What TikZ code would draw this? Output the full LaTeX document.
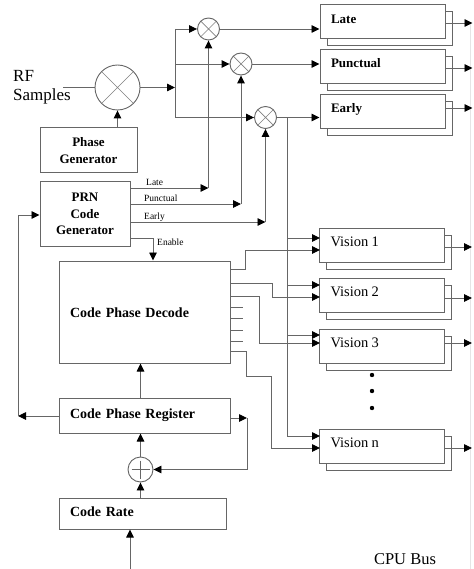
\documentclass[tikz,border=0pt]{standalone}
\usepackage{fontspec}
\setmainfont{Liberation Serif}
\usetikzlibrary{arrows.meta,calc}
\tikzset{
  ln/.style={draw=black!60, line width=0.9pt},
  arr/.style={ln, -{Triangle[length=8pt,width=7.5pt,color=black]}},
  gbox/.style={rectangle, draw=black!60, line width=1pt, fill=white, inner sep=0pt},
  chbox/.style={gbox, minimum width=125pt, minimum height=34pt, text width=103pt,
    inner xsep=11pt, align=left, text height=9pt, text depth=6pt},
  wide/.style={gbox, inner xsep=11pt, align=left, text height=9.5pt, text depth=3pt,
    font=\bfseries\fontsize{14}{16}\selectfont},
  boldlab/.style={font=\bfseries\fontsize{13}{16.5}\selectfont},
  small/.style={font=\fontsize{9.5}{11}\selectfont, inner sep=0pt},
  mixer/.style={circle, draw=black!60, line width=0.9pt, fill=white, inner sep=0pt,
    path picture={\draw[black!50, line width=0.7pt]
      (path picture bounding box.north west) -- (path picture bounding box.south east)
      (path picture bounding box.north east) -- (path picture bounding box.south west);}},
  adder/.style={circle, draw=black!60, line width=0.9pt, fill=white, inner sep=0pt,
    minimum size=25pt,
    path picture={\draw[black!60, line width=0.7pt]
      ([xshift=3.5pt]path picture bounding box.west) -- ([xshift=-3.5pt]path picture bounding box.east)
      ([yshift=-3.5pt]path picture bounding box.north) -- ([yshift=3.5pt]path picture bounding box.south);}},
}
\newcommand\chanbox[4]{%
  \draw[gbox] (#2-62.5+7,#3-17+7) rectangle (#2+62.5+7,#3+17+7);
  \node[chbox] (#1) at (#2,#3) {#4};}
\begin{document}
\begin{tikzpicture}[x=1pt,y=-1pt]
\useasboundingbox (0,0) rectangle (473,569);

% faint CPU bus line
\coordinate (bustop) at (470,23);
\coordinate (busbot) at (470,569);
\draw[black!10, line width=0.8pt] (bustop) -- (busbot);

% left column
\node[font=\fontsize{17}{19}\selectfont, align=left, anchor=west, inner sep=0pt] (rf) at (13,87) {RF\\Samples};
\node[mixer, minimum size=45pt] (mix) at (117.5,87.5) {};
\node[gbox, boldlab, minimum width=97pt, minimum height=45pt, align=center] (phgen) at (88.5,150.5) {Phase\\Generator};
\node[gbox, boldlab, minimum width=90pt, minimum height=64pt, align=center] (prn) at (85,214) {PRN\\Code\\Generator};
\node[wide, minimum width=171pt, minimum height=102pt, text width=149pt, text height=14pt, text depth=3pt] (cpd) at (144.5,312) {Code Phase Decode};
\node[wide, minimum width=171pt, minimum height=35pt, text width=149pt] (reg) at (144.5,415.5) {Code Phase Register};
\node[adder] (add) at (140.5,469.5) {};
\node[wide, minimum width=167pt, minimum height=31pt, text width=145pt] (rate) at (142.5,513.5) {Code Rate};

% small mixers
\node[mixer, minimum size=22pt] (mL) at (208.5,29) {};
\node[mixer, minimum size=22pt] (mP) at (241,64) {};
\node[mixer, minimum size=22pt] (mE) at (265.5,117.5) {};

% channel boxes
\chanbox{late}{382.5}{22}{\bfseries\fontsize{13}{15}\selectfont Late}
\chanbox{punc}{382.5}{66.5}{\bfseries\fontsize{13}{15}\selectfont Punctual}
\chanbox{early}{382.5}{111.5}{\bfseries\fontsize{13}{15}\selectfont Early}
\chanbox{v1}{382}{245}{\fontsize{14.5}{16}\selectfont Vision 1}
\chanbox{v2}{382}{295}{\fontsize{14.5}{16}\selectfont Vision 2}
\chanbox{v3}{382}{346}{\fontsize{14.5}{16}\selectfont Vision 3}
\chanbox{vn}{382}{446}{\fontsize{14.5}{16}\selectfont Vision n}

\fill[black] (372,375) circle (2.2pt);
\fill[black] (372,391) circle (2.2pt);
\fill[black] (372,408) circle (2.2pt);

\node[font=\fontsize{16.5}{18}\selectfont, inner sep=0pt] (cpu) at (405,559) {CPU Bus};

% RF path
\coordinate (rfin) at (63,87.5);
\draw[ln] (rfin) -- (mix.west);
\draw[arr] (mix.south |- phgen.north) -- (mix.south);
\coordinate (sp) at (175,87.5);
\draw[arr] (mix.east) -- (sp);
\coordinate (spT) at (175,29);
\coordinate (spM) at (175,64);
\coordinate (spB) at (175,117.5);
\draw[ln] (spT) -- (spB);
\draw[arr] (spT) -- (mL.west);
\draw[arr] (spM) -- (mP.west);
\draw[arr] (spB) -- (mE.west);
\draw[arr] (mL.east) -- (late.west |- mL.east);
\draw[arr] (mP.east) -- (punc.west |- mP.east);
\draw[arr] (mE.east) -- (early.west |- mE.east);

% outputs to bus
\foreach \n/\dy in {late/1, punc/1.5, early/-3.5, v1/2, v2/3, v3/-3, vn/2}{
  \draw[arr] ($(\n.east)+(0,\dy)$) -- ($(\n.east)+(27,\dy)$);
}

% PRN code outputs
\coordinate (cL) at (208.5,188);
\coordinate (cP) at (241,204);
\coordinate (cE) at (265.5,222);
\draw[arr] (prn.east |- cL) -- (cL);
\draw[arr] (cL) -- (mL.south);
\draw[arr] (prn.east |- cP) -- (cP);
\draw[arr] (cP) -- (mP.south);
\draw[arr] (prn.east |- cE) -- (cE);
\draw[arr] (cE) -- (mE.south);
\node[small, anchor=base west] (tL) at (146,185.5) {Late};
\node[small, anchor=base west] (tP) at (144,201.5) {Punctual};
\node[small, anchor=base west] (tE) at (144,219.5) {Early};

% enable
\coordinate (cEn) at (153,238);
\draw[ln] (prn.east |- cEn) -- (cEn);
\draw[arr] (cEn) -- (cEn |- cpd.north);
\node[small, anchor=west] (tEn) at (157,242) {Enable};

% register / adder / rate
\draw[arr] (add.north |- reg.north) -- (add.north |- cpd.south);
\draw[arr] (add.north) -- (add.north |- reg.south);
\draw[arr] (add.south |- rate.north) -- (add.south);
\coordinate (bin) at (130,569);
\draw[arr] (bin) -- (bin |- rate.south);
\coordinate (rr) at (247,418);
\draw[arr] (reg.east |- rr) -- (rr);
\draw[arr] (rr) |- (add.east);
\coordinate (rl) at (18,416);
\coordinate (rlt) at (18,215);
\draw[arr] (reg.west |- rl) -- (rl);
\draw[arr] (rl) -- (rlt) -- (prn.west |- rlt);

% early output distribution
\coordinate (ev) at (287,117.5);
\coordinate (evb) at (287,436);
\draw[ln] (ev) -- (evb);
\coordinate (a1) at (320,238);
\coordinate (a2) at (320,285);
\coordinate (a3) at (320,335);
\coordinate (a4) at (320,436);
\draw[arr] (ev |- a1) -- (a1);
\draw[arr] (ev |- a2) -- (a2);
\draw[arr] (ev |- a3) -- (a3);
\draw[arr] (evb) -- (a4);

% code phase decode outputs
\coordinate (b1) at (320,250);
\coordinate (b2) at (320,297);
\coordinate (b3) at (320,343);
\coordinate (b4) at (320,448);
\coordinate (o1) at ($(cpd.north east)+(0,9)$);
\coordinate (o2) at ($(cpd.north east)+(0,23)$);
\coordinate (o3) at ($(cpd.north east)+(0,36)$);
\coordinate (o4) at ($(cpd.north east)+(0,47)$);
\coordinate (o5) at ($(cpd.north east)+(0,58)$);
\coordinate (o6) at ($(cpd.north east)+(0,70)$);
\coordinate (o7) at ($(cpd.north east)+(0,81)$);
\coordinate (o8) at ($(cpd.north east)+(0,91)$);
\draw[arr] (o1) -- ++(15,0) |- (b1);
\draw[arr] (o2) -- ++(42,0) |- (b2);
\draw[arr] (o3) -- ++(29,0) |- (b3);
\draw[arr] (o8) -- ++(16,0) -- ++(0,25) -- ++(25,0) |- (b4);
\foreach \o in {o4,o5,o6,o7}{ \draw[ln] (\o) -- ++(12,0); }
\end{tikzpicture}
\end{document}
